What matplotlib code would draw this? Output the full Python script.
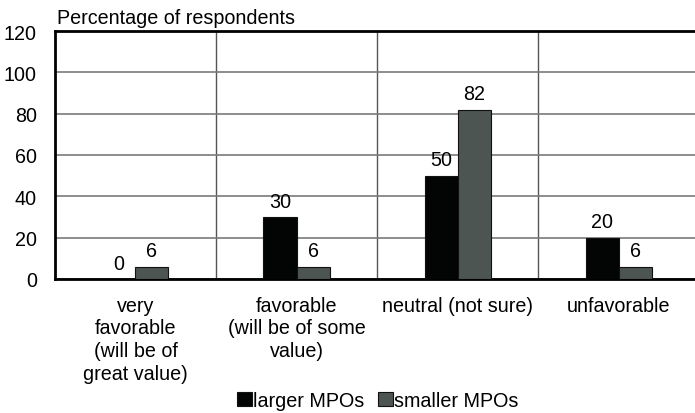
import numpy as np
import matplotlib.pyplot as plt

plt.rcParams['font.family'] = ['Liberation Sans', 'DejaVu Sans']

categories = ['very\nfavorable\n(will be of\ngreat value)',
              'favorable\n(will be of some\nvalue)',
              'neutral (not sure)',
              'unfavorable']
larger = [0, 30, 50, 20]
smaller = [6, 6, 82, 6]

fs = 14.2
fig = plt.figure(figsize=(6.95, 4.14), dpi=100)
ax = fig.add_axes([0.079, 0.3237, 0.927, 0.599])

x = np.arange(len(categories))
w = 0.205
b1 = ax.bar(x - w / 2, larger, w, color='#020503', edgecolor='#111111',
            linewidth=0.8, label='larger MPOs', zorder=3)
b2 = ax.bar(x + w / 2, smaller, w, color='#4d5553', edgecolor='#111111',
            linewidth=0.8, label='smaller MPOs', zorder=3)
for bars, vals in [(b1, larger), (b2, smaller)]:
    for r, v in zip(bars, vals):
        ax.text(r.get_x() + r.get_width() / 2, v + 3, str(v),
                ha='center', va='bottom', fontsize=fs)

ax.set_xlim(-0.5, 3.5)
ax.set_ylim(0, 120)
ax.set_yticks(range(0, 121, 20))
ax.set_xticks(x)
ax.set_xticklabels(categories, fontsize=fs, linespacing=1.25)
ax.tick_params(axis='y', labelsize=fs, length=0, pad=13)
ax.tick_params(axis='x', length=0, pad=12)
ax.yaxis.grid(True, color='#7a7a7a', linewidth=1.2, zorder=0)
for xv in [0.5, 1.5, 2.5]:
    ax.axvline(xv, color='#555555', linewidth=1.0, zorder=0)
for s in ['top', 'bottom', 'left']:
    ax.spines[s].set_linewidth(2)
ax.spines['right'].set_visible(False)

fig.text(0.082, 0.955, 'Percentage of respondents', fontsize=fs,
         ha='left', va='center')

fig.legend(handles=[b1, b2], loc='center', bbox_to_anchor=(0.543, 0.03),
           ncol=2, frameon=False, fontsize=fs, handlelength=0.75,
           handleheight=0.75, handletextpad=0.05, columnspacing=0.7)

fig.savefig('out.png', dpi=100)
